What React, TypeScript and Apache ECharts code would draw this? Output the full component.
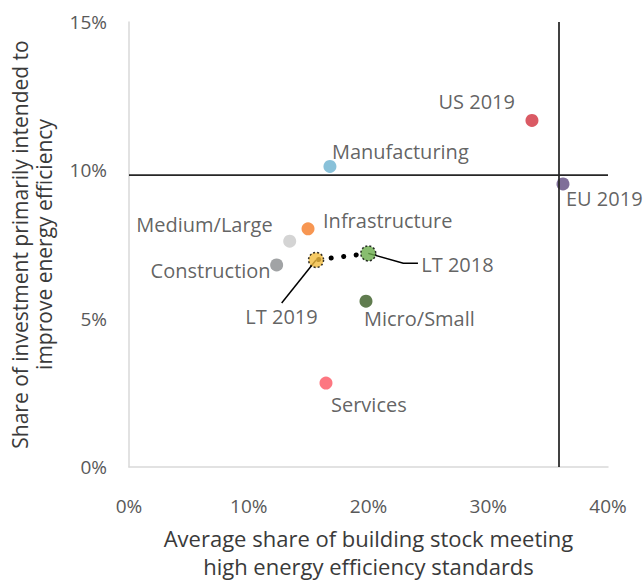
import React, { useEffect, useRef } from "react";
import * as echarts from "echarts";

const names = ["US 2019", "EU 2019", "Manufacturing", "Infrastructure", "Medium/Large", "Construction", "LT 2019", "LT 2018", "Micro/Small", "Services"];
const xValues = [33.65, 36.24, 16.78, 14.95, 13.42, 12.33, 15.62, 19.98, 19.79, 16.45];
const yValues = [11.68, 9.54, 10.13, 8.03, 7.61, 6.81, 6.98, 7.2, 5.59, 2.83];
const pointColors = ["#d1313d", "#5f4b80", "#6bb1d0", "#f57c27", "#c9c9c9", "#8a8c8f", "#f2bd3f", "#6aac4b", "#385b23", "#fc5561"];
const xTicks = [0, 10, 20, 30, 40];
const yTicks = [0, 5, 10, 15];
const refX = 35.88;
const refY = 9.84;

// label placement (pixels relative to point centre)
const labelLayout: Record<string, { align: string; offset: [number, number] }> = {
  "US 2019": { align: "right", offset: [-17, -19] },
  "EU 2019": { align: "left", offset: [3, 15] },
  Manufacturing: { align: "left", offset: [2, -15] },
  Infrastructure: { align: "left", offset: [15, -8] },
  "Medium/Large": { align: "right", offset: [-17, -17] },
  Construction: { align: "right", offset: [-6, 6] },
  "LT 2019": { align: "center", offset: [-34.5, 57] },
  "LT 2018": { align: "left", offset: [53, 11] },
  "Micro/Small": { align: "left", offset: [-2, 17] },
  Services: { align: "left", offset: [5, 21] },
};

const FONT = "'Open Sans', 'Noto Sans', sans-serif";
const TEXT = "#3a3a3a";

export default function App() {
  const ref = useRef<HTMLDivElement>(null);
  useEffect(() => {
    if (!ref.current) return;
    const chart = echarts.init(ref.current, undefined, { renderer: "svg" });
    const idx = (n: string) => names.indexOf(n);
    const lt19 = [xValues[idx("LT 2019")], yValues[idx("LT 2019")]];
    const lt18 = [xValues[idx("LT 2018")], yValues[idx("LT 2018")]];
    const isLT = (n: string) => n.startsWith("LT");

    const scatterData = names.map((n, i) => ({
      name: n,
      value: [xValues[i], yValues[i]],
      symbolSize: isLT(n) ? 15 : 13,
      itemStyle: isLT(n)
        ? { color: pointColors[i], borderColor: "#000", borderWidth: 1.5, borderType: [2, 2] }
        : { color: pointColors[i] },
      label: {
        show: true,
        position: "inside",
        formatter: n,
        align: labelLayout[n].align,
        verticalAlign: "middle",
        offset: labelLayout[n].offset,
        color: TEXT,
        fontSize: 20,
        fontFamily: FONT,
      },
    }));

    chart.setOption({
      animation: false,
      textStyle: { fontFamily: FONT },
      grid: { left: 129, right: 35, top: 22, bottom: 107, containLabel: false },
      xAxis: {
        type: "value",
        min: xTicks[0],
        max: xTicks[xTicks.length - 1],
        interval: 10,
        name: "Average share of building stock meeting\nhigh energy efficiency standards",
        nameLocation: "middle",
        nameGap: 57,
        nameTextStyle: { color: TEXT, fontSize: 22, lineHeight: 28, fontFamily: FONT },
        axisLine: { lineStyle: { color: "#d9d9d9", width: 1.5 } },
        axisTick: { show: false },
        splitLine: { show: false },
        axisLabel: { formatter: "{value}%", color: "#595959", fontSize: 19, margin: 29, fontFamily: FONT },
      },
      yAxis: {
        type: "value",
        min: yTicks[0],
        max: yTicks[yTicks.length - 1],
        interval: 5,
        name: "Share of investment primarily intended to\nimprove energy efficiency",
        nameLocation: "middle",
        nameGap: 73,
        nameTextStyle: { color: TEXT, fontSize: 21, lineHeight: 24, fontFamily: FONT },
        axisLine: { show: true, lineStyle: { color: "#d9d9d9", width: 1.5 } },
        axisTick: { show: false },
        splitLine: { show: false },
        axisLabel: { formatter: "{value}%", color: "#595959", fontSize: 19, margin: 22, fontFamily: FONT },
      },
      series: [
        {
          type: "line",
          data: [lt19, lt18],
          symbol: "none",
          z: 1,
          lineStyle: { color: "#000", width: 5, type: [0.1, 12.5], cap: "round", dashOffset: 10 },
          markLine: {
            silent: true,
            symbol: "none",
            label: { show: false },
            lineStyle: { color: "#262626", width: 1.75, type: "solid" },
            data: [{ xAxis: refX }, { yAxis: refY }],
          },
        },
        {
          type: "line",
          data: [lt19, [lt19[0] - 2.87, lt19[1] - 1.45]],
          symbol: "none",
          z: 1,
          lineStyle: { color: "#000", width: 1.5 },
        },
        {
          type: "line",
          data: [lt18, [lt18[0] + 2.93, lt18[1] - 0.33], [lt18[0] + 4.15, lt18[1] - 0.33]],
          symbol: "none",
          z: 1,
          lineStyle: { color: "#000", width: 1.5 },
        },
        {
          type: "scatter",
          z: 3,
          data: scatterData,
        },
      ],
    });
    return () => chart.dispose();
  }, []);
  return <div ref={ref} style={{ position: "absolute", left: 0, top: 0, width: 643, height: 585 }} />;
}
